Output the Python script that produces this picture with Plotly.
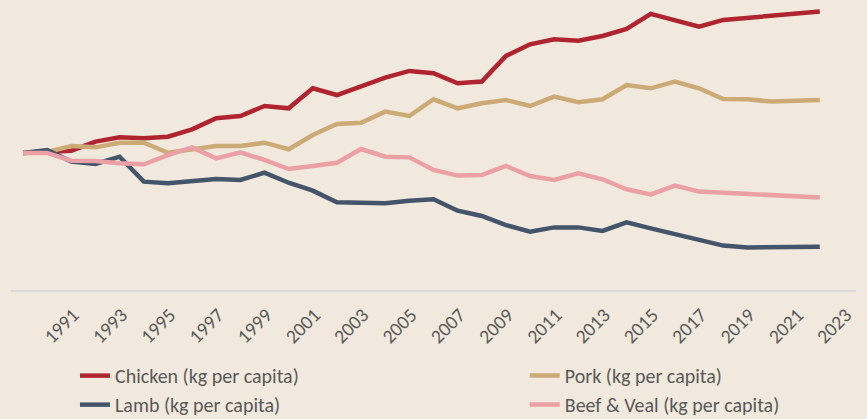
import plotly.graph_objects as go

years = list(range(1990, 2024))
tick_years = list(range(1991, 2024, 2))

chicken = [100, 100.5, 101.7, 108.3, 111.4, 110.7, 111.9, 117.3, 125.3, 127.0, 134.3, 132.6,
           147.2, 142.3, 148.9, 155.0, 159.9, 158.2, 150.9, 152.1, 170.8, 179.3, 183.0, 182.0,
           185.4, 190.5, 201.5, 196.6, 192.2, 197.1, 198.8, 200.5, 201.9, 203.2]
pork = [100, 100.7, 105.1, 104.1, 107.5, 107.5, 100.2, 102.7, 105.1, 105.1, 107.5, 102.7,
        113.1, 121.2, 122.1, 130.2, 127.0, 139.2, 132.6, 136.3, 138.7, 134.3, 141.1, 137.0,
        139.2, 149.6, 147.2, 152.1, 147.2, 139.4, 139.2, 137.5, 138.2, 138.7]
lamb = [100, 102.2, 93.7, 92.0, 97.3, 79.1, 77.9, 79.1, 81.0, 80.3, 85.6, 78.3,
        72.5, 64.0, 63.3, 63.3, 65.2, 66.2, 57.9, 54.0, 47.4, 42.6, 45.7, 45.7,
        43.1, 49.4, 45.0, 40.6, 36.5, 32.4, 31.1, 31.1, 31.1, 31.6]
beef = [100, 100, 94.4, 94.2, 92.5, 91.7, 98.5, 104.1, 96.1, 100.5, 94.9, 88.3,
        90.5, 92.9, 102.9, 97.3, 96.8, 87.6, 83.5, 83.9, 90.5, 83.2, 80.3, 85.2,
        80.8, 73.5, 69.8, 76.2, 71.8, 71.0, 70.1, 68.9, 68.1, 67.6]

names = ["Chicken (kg per capita)", "Pork (kg per capita)",
         "Lamb (kg per capita)", "Beef & Veal (kg per capita)"]
series = [chicken, pork, lamb, beef]
colors = ["#B0242F", "#CCAA76", "#44546A", "#EAA0A5"]
legends = ["legend", "legend2", "legend", "legend2"]

FONT = "Carlito, Lato, 'Open Sans', sans-serif"
bg = "#F1E9DD"

fig = go.Figure()
for name, vals, col, lg in zip(names, series, colors, legends):
    fig.add_trace(go.Scatter(x=years, y=vals, mode="lines", name=name,
                             line=dict(color=col, width=4.5), legend=lg))

fig.update_layout(
    width=867, height=419,
    margin=dict(l=11, r=11, t=5, b=129, autoexpand=False),
    paper_bgcolor=bg, plot_bgcolor=bg,
    font=dict(family=FONT, color="#595959", size=20),
    xaxis=dict(range=[1989.5, 2024.5], tickvals=tick_years, ticktext=[str(y) for y in tick_years],
               tickangle=-45, showgrid=False, zeroline=False, showline=True, automargin=False,
               linecolor="#D9D9D9", linewidth=2, ticks="", ticklabelshift=26,
               ticklabelstandoff=4,
               tickfont=dict(size=19.5, color="#595959")),
    yaxis=dict(range=[0, 208], visible=False, showgrid=False, zeroline=False, automargin=False),
    legend=dict(x=0.0757, y=-0.232, xanchor="left", yanchor="top", orientation="v",
                bgcolor="rgba(0,0,0,0)", tracegroupgap=0, maxheight=300,
                font=dict(size=20, color="#595959")),
    legend2=dict(x=0.608, y=-0.232, xanchor="left", yanchor="top", orientation="v",
                 bgcolor="rgba(0,0,0,0)", tracegroupgap=0, maxheight=300,
                 font=dict(size=20, color="#595959")),
)

fig.write_html(
    "out.html",
    config={"displayModeBar": False},
    post_script="document.body.style.margin='0';document.body.style.background='" + bg + "';",
)
